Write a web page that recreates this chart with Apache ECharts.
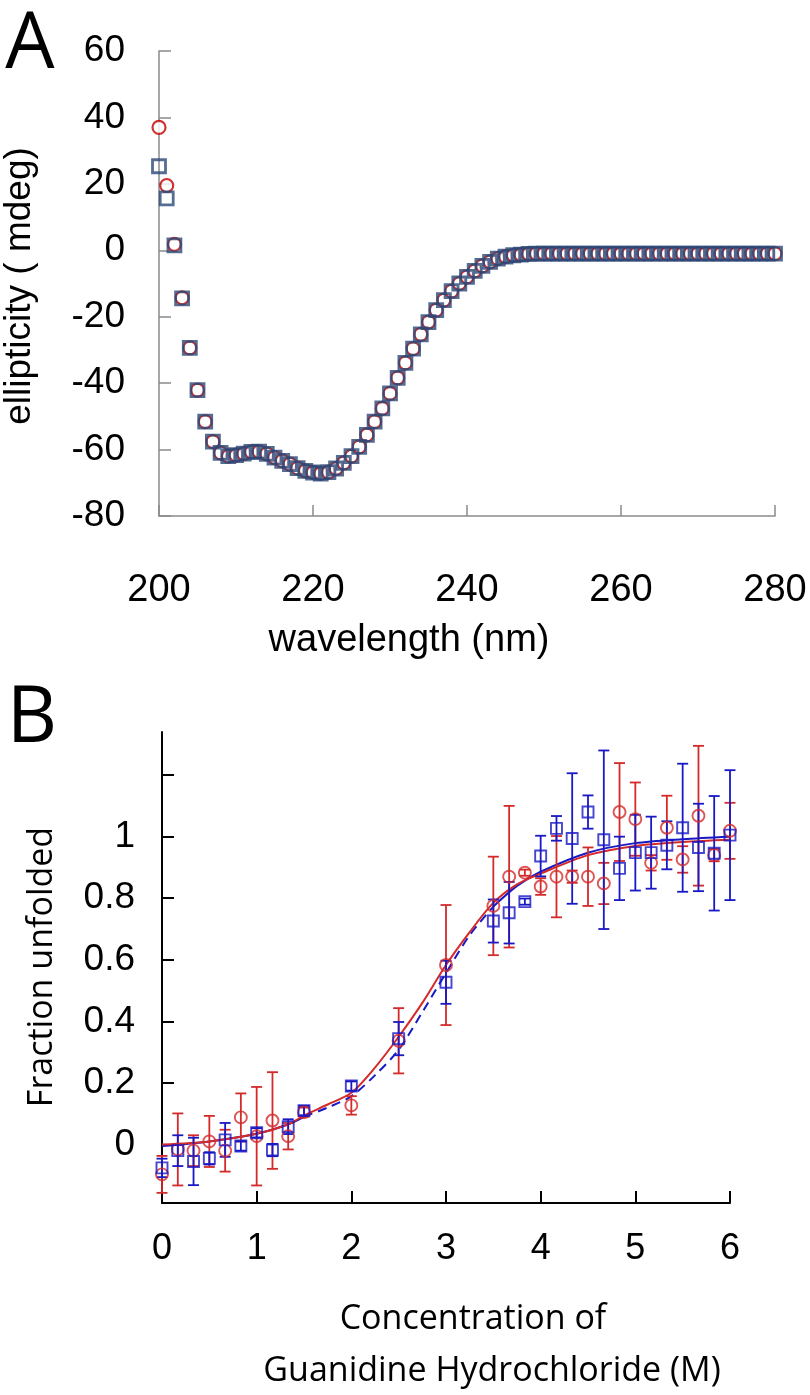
<!DOCTYPE html>
<html>
<head>
<meta charset="utf-8">
<script src="https://cdn.jsdelivr.net/npm/echarts@6/dist/echarts.min.js"></script>
<style>
html,body{margin:0;padding:0;background:#fff;}
#c{width:810px;height:1395px;}
</style>
</head>
<body>
<div id="c"></div>
<script>
// ---------- Panel A data ----------
const wavelengths = [200,201,202,203,204,205,206,207,208,209,210,211,212,213,214,215,216,217,218,219,220,
  221,222,223,224,225,226,227,228,229,230,231,232,233,234,235,236,237,238,239,240,
  241,242,243,244,245,246,247,248,249,250,251,252,253,254,255,256,257,258,259,260,
  261,262,263,264,265,266,267,268,269,270,271,272,273,274,275,276,277,278,279,280];
const ellipSquares = [25.3,15.6,1.5,-14.5,-29.4,-42.1,-51.6,-57.6,-61,-62,-61.7,-61.2,-60.7,-60.6,-61.3,-62.4,-63.4,-64.4,-65.6,-66.4,-66.9,
  -67.2,-66.8,-65.7,-64,-62,-59.2,-55.6,-51.6,-47.6,-43.1,-38.4,-33.9,-29.6,-25.3,-21.6,-18,-15,-12.3,-10,-8,
  -6.2,-4.7,-3.5,-2.5,-1.9,-1.5,-1.3,-1.1,-1,-1,-1,-1,-1,-1,-1,-1,-1,-1,-1,-1,
  -1,-1,-1,-1,-1,-1,-1,-1,-1,-1,-1,-1,-1,-1,-1,-1,-1,-1,-1,-1];
const ellipCircles = [37,19.5,1.8,-14.3,-29.4,-42.1,-51.6,-57.6,-61,-62,-61.7,-61.2,-60.7,-60.6,-61.3,-62.4,-63.4,-64.4,-65.6,-66.4,-66.9,
  -67.2,-66.8,-65.7,-64,-62,-59.2,-55.6,-51.6,-47.6,-43.1,-38.4,-33.9,-29.6,-25.3,-21.6,-18,-15,-12.3,-10,-8,
  -6.2,-4.7,-3.5,-2.5,-1.9,-1.5,-1.3,-1.1,-1,-1,-1,-1,-1,-1,-1,-1,-1,-1,-1,-1,
  -1,-1,-1,-1,-1,-1,-1,-1,-1,-1,-1,-1,-1,-1,-1,-1,-1,-1,-1,-1];
const aYTicks = [-80,-60,-40,-20,0,20,40,60];
const aXTicks = [200,220,240,260,280];

// ---------- Panel B data ----------
const conc = [0,0.167,0.333,0.5,0.667,0.833,1,1.167,1.333,1.5,2,2.5,3,3.5,3.667,3.833,4,4.167,4.333,4.5,4.667,4.833,5,5.167,5.333,5.5,5.667,5.833,6];
const redFrac = [-0.097,-0.016,-0.02,0.01,-0.02,0.088,0.027,0.078,0.027,0.105,0.127,0.337,0.583,0.775,0.87,0.883,0.838,0.87,0.87,0.87,0.848,1.08,1.057,0.915,1.029,0.926,1.068,0.94,1.019];
const redErr = [0.06,0.117,0.05,0.083,0.068,0.078,0.16,0.157,0.043,0.015,0.03,0.106,0.195,0.16,0.23,0.01,0.027,0.132,0.02,0.095,0.067,0.159,0.119,0.025,0.104,0.043,0.227,0.02,0.091];
const blueFrac = [-0.076,-0.02,-0.055,-0.045,0.015,-0.005,0.038,-0.018,0.058,0.11,0.19,0.344,0.527,0.726,0.753,0.789,0.937,1.027,0.994,1.08,0.99,0.897,0.948,0.948,0.972,1.029,0.965,0.946,1.005];
const blueErr = [0.03,0.05,0.077,0.02,0.055,0.015,0.015,0.02,0.024,0.015,0.015,0.054,0.07,0.07,0.1,0.01,0.066,0.04,0.212,0.054,0.29,0.103,0.123,0.117,0.078,0.208,0.142,0.186,0.211];
const fitX = [0,0.5,1,1.33,1.5,1.75,2,2.25,2.5,2.75,3,3.25,3.5,3.75,4,4.5,5,5.5,6];
const redFit = [0,0.01,0.035,0.065,0.094,0.13,0.168,0.25,0.35,0.46,0.583,0.69,0.785,0.845,0.88,0.94,0.97,0.983,0.99];
const blueFit = [-0.005,0.01,0.035,0.065,0.09,0.12,0.157,0.225,0.308,0.43,0.557,0.68,0.773,0.84,0.886,0.948,0.979,0.992,1.0];
const bYTicks = [0,0.2,0.4,0.6,0.8,1,1.2];
const bYLabels = [0,0.2,0.4,0.6,0.8,1];
const bXTicks = [0,1,2,3,4,5,6];

// ---------- styles ----------
const RED_A = '#C00000', BLUE_A = '#2A4878';
const RED_B = '#D42A2A', BLUE_B = '#1818C4';
const TICK_FONT = 'Liberation Sans, Arial, sans-serif';
const TITLE_FONT = '"Open Sans", "Noto Sans", sans-serif';

const chart = echarts.init(document.getElementById('c'), null, {renderer: 'canvas'});

function errBar(color) {
  return function (params, api) {
    const x = api.value(0), y = api.value(1), e = api.value(2);
    const top = api.coord([x, y + e]);
    const bot = api.coord([x, y - e]);
    const hw = 5.5;
    const st = {stroke: color, lineWidth: 1.8};
    return {type: 'group', children: [
      {type: 'line', shape: {x1: top[0], y1: top[1], x2: bot[0], y2: bot[1]}, style: st},
      {type: 'line', shape: {x1: top[0] - hw, y1: top[1], x2: top[0] + hw, y2: top[1]}, style: st},
      {type: 'line', shape: {x1: bot[0] - hw, y1: bot[1], x2: bot[0] + hw, y2: bot[1]}, style: st}
    ]};
  };
}

const blueSolidA = fitX.map((x, i) => (x <= 1.5 ? [x, blueFit[i]] : [x, null]));
const blueSolidB = fitX.map((x, i) => (x >= 3.5 ? [x, blueFit[i]] : [x, null]));
const blueDash = fitX.map((x, i) => (x >= 1.5 && x <= 3.5 ? [x, blueFit[i]] : [x, null]));

const option = {
  backgroundColor: '#fff',
  animation: false,
  grid: [
    {left: 159, top: 51, width: 616, height: 465},
    {left: 162, top: 732, width: 568, height: 471}
  ],
  xAxis: [
    {gridIndex: 0, type: 'value', min: 200, max: 280, interval: 20,
      axisLine: {onZero: false, lineStyle: {color: '#8a8a8a', width: 1.5}},
      axisTick: {inside: true, length: 11, lineStyle: {color: '#8a8a8a', width: 1.5}},
      axisLabel: {margin: 56, color: '#000', fontSize: 38, fontFamily: TICK_FONT},
      splitLine: {show: false}},
    {gridIndex: 1, type: 'value', min: 0, max: 6, interval: 1,
      axisLine: {onZero: false, lineStyle: {color: '#000', width: 2}},
      axisTick: {inside: true, length: 12, lineStyle: {color: '#000', width: 2}},
      axisLabel: {margin: 28, color: '#000', fontSize: 36, fontFamily: TICK_FONT},
      splitLine: {show: false}}
  ],
  yAxis: [
    {gridIndex: 0, type: 'value', min: -80, max: 60, interval: 20,
      axisLine: {show: true, onZero: false, lineStyle: {color: '#8a8a8a', width: 1.5}},
      axisTick: {show: true, inside: true, length: 12, lineStyle: {color: '#8a8a8a', width: 1.5}},
      axisLabel: {margin: 34, color: '#000', fontSize: 37, fontFamily: TICK_FONT},
      splitLine: {show: false}},
    {gridIndex: 1, type: 'value', min: -0.19, max: 1.34,
      axisLine: {show: true, onZero: false, lineStyle: {color: '#000', width: 2}},
      axisTick: {show: true, inside: true, length: 12, customValues: bYTicks, lineStyle: {color: '#000', width: 2}},
      axisLabel: {margin: 27, color: '#000', fontSize: 37, fontFamily: TICK_FONT, customValues: bYLabels,
        formatter: v => String(Math.round(v * 10) / 10)},
      splitLine: {show: false}}
  ],
  graphic: [
    {type: 'text', x: 30, y: 46, style: {text: 'A', font: '78px "Open Sans", sans-serif', fill: '#000', textAlign: 'center', textVerticalAlign: 'middle'}},
    {type: 'text', x: 32, y: 720, style: {text: 'B', font: '78px "Open Sans", sans-serif', fill: '#000', textAlign: 'center', textVerticalAlign: 'middle'}},
    {type: 'text', x: 20, y: 286, rotation: Math.PI / 2, style: {text: 'ellipticity ( mdeg)', font: '37px ' + TICK_FONT, fill: '#000', textAlign: 'center', textVerticalAlign: 'middle'}},
    {type: 'text', x: 409, y: 641, style: {text: 'wavelength (nm)', font: '38px ' + TICK_FONT, fill: '#000', textAlign: 'center', textVerticalAlign: 'middle'}},
    {type: 'text', x: 42, y: 967, rotation: Math.PI / 2, style: {text: 'Fraction unfolded', font: '34px ' + TITLE_FONT, fill: '#000', textAlign: 'center', textVerticalAlign: 'middle'}},
    {type: 'text', x: 473, y: 1319, style: {text: 'Concentration of', font: '34px ' + TITLE_FONT, fill: '#000', textAlign: 'center', textVerticalAlign: 'middle'}},
    {type: 'text', x: 492, y: 1371, style: {text: 'Guanidine Hydrochloride (M)', font: '34px ' + TITLE_FONT, fill: '#000', textAlign: 'center', textVerticalAlign: 'middle'}}
  ],
  series: [
    // Panel A
    {type: 'scatter', xAxisIndex: 0, yAxisIndex: 0, symbol: 'circle', symbolSize: 13,
      itemStyle: {color: '#fff', borderColor: RED_A, borderWidth: 2.2},
      data: wavelengths.map((w, i) => [w, ellipCircles[i]]), z: 2},
    {type: 'scatter', xAxisIndex: 0, yAxisIndex: 0, symbol: 'rect', symbolSize: 13,
      itemStyle: {color: 'rgba(255,255,255,0)', borderColor: BLUE_A, borderWidth: 2.8},
      data: wavelengths.map((w, i) => [w, ellipSquares[i]]), z: 3},
    // Panel B fits
    {type: 'line', xAxisIndex: 1, yAxisIndex: 1, showSymbol: false, smooth: 0.3,
      lineStyle: {color: BLUE_B, width: 2}, data: blueSolidA, z: 3},
    {type: 'line', xAxisIndex: 1, yAxisIndex: 1, showSymbol: false, smooth: 0.3,
      lineStyle: {color: BLUE_B, width: 2}, data: blueSolidB, z: 3},
    {type: 'line', xAxisIndex: 1, yAxisIndex: 1, showSymbol: false, smooth: 0.3,
      lineStyle: {color: BLUE_B, width: 2, type: [9, 6]}, data: blueDash, z: 3},
    {type: 'line', xAxisIndex: 1, yAxisIndex: 1, showSymbol: false, smooth: 0.3,
      lineStyle: {color: RED_B, width: 2}, data: fitX.map((x, i) => [x, redFit[i]]), z: 4},
    // Panel B error bars
    {type: 'custom', xAxisIndex: 1, yAxisIndex: 1, renderItem: errBar(RED_B),
      encode: {x: 0, y: 1}, data: conc.map((x, i) => [x, redFrac[i], redErr[i]]), z: 5},
    {type: 'custom', xAxisIndex: 1, yAxisIndex: 1, renderItem: errBar(BLUE_B),
      encode: {x: 0, y: 1}, data: conc.map((x, i) => [x, blueFrac[i], blueErr[i]]), z: 5},
    // Panel B points
    {type: 'scatter', xAxisIndex: 1, yAxisIndex: 1, symbol: 'circle', symbolSize: 12,
      itemStyle: {color: 'rgba(255,255,255,0)', borderColor: RED_B, borderWidth: 1.9},
      data: conc.map((x, i) => [x, redFrac[i]]), z: 6},
    {type: 'scatter', xAxisIndex: 1, yAxisIndex: 1, symbol: 'rect', symbolSize: 11,
      itemStyle: {color: 'rgba(255,255,255,0)', borderColor: BLUE_B, borderWidth: 1.9},
      data: conc.map((x, i) => [x, blueFrac[i]]), z: 6}
  ]
};
chart.setOption(option);
</script>
</body>
</html>
